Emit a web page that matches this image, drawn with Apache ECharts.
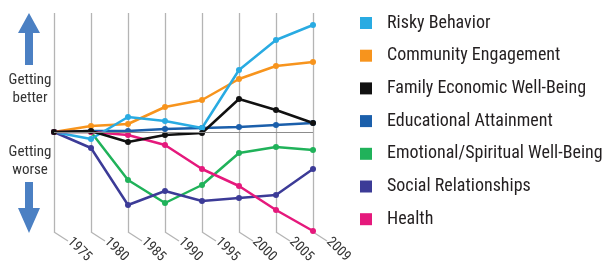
<!DOCTYPE html>
<html>
<head>
<meta charset="utf-8">
<script src="https://cdn.jsdelivr.net/npm/echarts@6/dist/echarts.min.js"></script>
<style>
html,body{margin:0;padding:0;background:#fff;}
#c{width:608px;height:261px;}
</style>
</head>
<body>
<div id="c"></div>
<script>
var years = ['1975','1980','1985','1990','1995','2000','2005','2009'];
var riskyBehavior = [0, -7, 15, 11, 4, 62, 92, 107];
var communityEngagement = [0, 6, 8, 25, 32, 53, 66, 70];
var familyEconomic = [0, 1, -10, -3, -1, 33, 22, 9];
var educationalAttainment = [0, 1, 1, 3, 4, 5, 7, 9];
var emotionalSpiritual = [0, 0, -48, -71, -53, -21, -15, -18];
var socialRelationships = [0, -16, -73, -59, -69, -66, -63, -37];
var health = [0, 0, -3, -13, -37, -54, -78, -99];
var seriesNames = ['Risky Behavior','Community Engagement','Family Economic Well-Being','Educational Attainment','Emotional/Spiritual Well-Being','Social Relationships','Health'];
var sideLabels = ['Getting\nbetter', 'Getting\nworse'];

var FONT = "'Roboto Condensed', 'DejaVu Sans Condensed', sans-serif";
var colors = ['#29abe2','#f7941d','#111111','#1b5fab','#20b25a','#3c3b97','#e5197c'];
var values = [riskyBehavior, communityEngagement, familyEconomic, educationalAttainment, emotionalSpiritual, socialRelationships, health];
var Y_MIN = -100, Y_MAX = 119;

var chart = echarts.init(document.getElementById('c'), null, {renderer:'canvas'});

var series = [];
var order = [3, 4, 5, 1, 0, 6, 2];
order.forEach(function(i){
  series.push({
    name: seriesNames[i],
    type: 'line',
    data: values[i],
    symbol: 'circle',
    symbolSize: 6,
    color: colors[i],
    lineStyle: {width: 2.5, color: colors[i]},
    itemStyle: {color: colors[i]},
    z: 3,
    animation: false
  });
});
series.push({
  type: 'line', data: [], silent: true, z: 2,
  markLine: {
    silent: true, symbol: 'none', label: {show: false},
    lineStyle: {color: '#8c8c8c', width: 1.2, type: 'solid'},
    data: [{yAxis: 0}], animation: false
  }
});
series.push({
  type: 'custom', silent: true, clip: false, z: 1,
  data: years.map(function(y, i){ return [i]; }),
  renderItem: function(params, api){
    var p = api.coord([api.value(0), Y_MIN]);
    return {
      type: 'line',
      shape: {x1: p[0], y1: p[1], x2: p[0] + 14, y2: p[1] + 9},
      style: {stroke: '#b4b4b4', lineWidth: 1.3}
    };
  },
  animation: false
});

var arrowColor = '#4b80c3';

chart.setOption({
  animation: false,
  backgroundColor: '#ffffff',
  grid: {left: 54, right: 295, top: 13, bottom: 29, containLabel: false, outerBoundsMode: 'none'},
  legend: {
    orient: 'vertical',
    left: 360, top: 13,
    padding: 0,
    icon: 'rect',
    itemWidth: 12, itemHeight: 12,
    itemGap: 12.7,
    data: seriesNames,
    textStyle: {fontFamily: FONT, fontSize: 18, color: '#231f20', lineHeight: 20, padding: [0,0,0,10]},
    selectedMode: false
  },
  xAxis: {
    type: 'category',
    data: years,
    boundaryGap: false,
    axisLine: {show: false},
    axisTick: {show: false},
    splitLine: {show: true, lineStyle: {color: '#b4b4b4', width: 1.3}},
    axisLabel: {
      rotate: -45, margin: 2, interval: 0,
      align: 'left', verticalAlign: 'bottom',
      fontFamily: FONT, fontSize: 14, color: '#333',
      padding: [0,0,0,15]
    }
  },
  yAxis: {
    type: 'value', min: Y_MIN, max: Y_MAX, show: false,
    splitLine: {show: false}
  },
  graphic: [
    {type: 'polygon', shape: {points: [[29,13],[40,33],[33,33],[33,65],[25,65],[25,33],[18,33]]}, style: {fill: arrowColor}},
    {type: 'polygon', shape: {points: [[25,182],[33,182],[33,208],[40,208],[29,233],[18,208],[25,208]]}, style: {fill: arrowColor}},
    {type: 'text', x: 30, y: 89, style: {text: sideLabels[0], font: '15px ' + FONT, fill: '#333', align: 'center', verticalAlign: 'middle', lineHeight: 18}},
    {type: 'text', x: 30, y: 161, style: {text: sideLabels[1], font: '15px ' + FONT, fill: '#333', align: 'center', verticalAlign: 'middle', lineHeight: 18}}
  ],
  series: series
});
</script>
</body>
</html>
